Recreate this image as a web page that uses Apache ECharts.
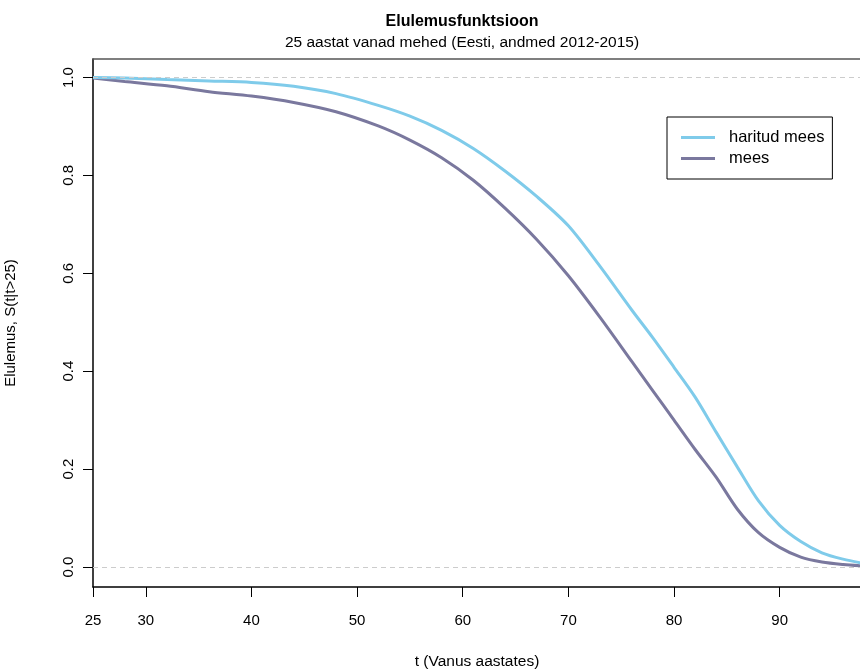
<!DOCTYPE html>
<html>
<head>
<meta charset="utf-8">
<script src="https://cdn.jsdelivr.net/npm/echarts@6/dist/echarts.min.js"></script>
<style>
  html, body { margin: 0; padding: 0; background: #fff; }
  #chart { width: 860px; height: 670px; }
</style>
</head>
<body>
<div id="chart"></div>
<script>
// vanus (aastates)
const ages = [25, 28, 32, 36, 40, 44, 48, 52, 55, 58, 61, 64, 67, 70, 73, 76, 78, 80, 82, 84, 86, 88, 90, 92, 94, 96, 98]
// elulemus, haritud mees
const educated = [1.000, 0.999, 0.996, 0.993, 0.990, 0.982, 0.967, 0.943, 0.921, 0.892, 0.855, 0.809, 0.757, 0.697, 0.614, 0.525, 0.468, 0.408, 0.347, 0.275, 0.204, 0.135, 0.085, 0.052, 0.029, 0.016, 0.007]
// elulemus, mees
const allMen = [0.999, 0.992, 0.983, 0.971, 0.962, 0.949, 0.930, 0.901, 0.872, 0.836, 0.790, 0.733, 0.669, 0.595, 0.510, 0.420, 0.360, 0.300, 0.240, 0.183, 0.118, 0.070, 0.040, 0.020, 0.010, 0.005, 0.002]

const xTicks = [25, 30, 40, 50, 60, 70, 80, 90]
const yTicks = [0, 0.2, 0.4, 0.6, 0.8, 1.0]
const seriesNames = ['haritud mees', 'mees']

const font = 'Liberation Sans, Arial, sans-serif'
const blue = '#7fcbea'
const purple = '#7a789e'

const chart = echarts.init(document.getElementById('chart'))
chart.setOption({
  animation: false,
  textStyle: { fontFamily: font },
  title: {
    text: 'Elulemusfunktsioon',
    subtext: '25 aastat vanad mehed (Eesti, andmed 2012-2015)',
    left: 457,
    top: 9,
    textAlign: 'center',
    itemGap: 5,
    textStyle: { fontFamily: font, fontSize: 16, fontWeight: 'bold', color: '#000' },
    subtextStyle: { fontFamily: font, fontSize: 15.5, color: '#000' }
  },
  legend: {
    data: seriesNames,
    orient: 'vertical',
    left: 667,
    top: 117,
    padding: [12, 8, 12, 14],
    itemGap: 4,
    itemWidth: 34,
    itemHeight: 3,
    icon: 'rect',
    borderColor: '#000',
    borderWidth: 1,
    borderRadius: 0,
    textStyle: { fontFamily: font, fontSize: 16.5, color: '#000', lineHeight: 17, padding: [0, 0, 0, 9] }
  },
  grid: { left: 93, top: 59, right: -1, bottom: 83, outerBoundsMode: 'none' },
  xAxis: [{
    type: 'value',
    min: 25,
    max: 97.7,
    name: 't (Vanus aastates)',
    nameLocation: 'middle',
    nameGap: 67,
    nameTextStyle: { fontFamily: font, fontSize: 15.5, color: '#000' },
    axisLine: { show: true, onZero: false, lineStyle: { color: '#000', width: 1.5 } },
    axisTick: { show: true, length: 10, customValues: xTicks, lineStyle: { color: '#000', width: 1 } },
    axisLabel: { customValues: xTicks, margin: 26, fontSize: 15, color: '#000', fontFamily: font },
    splitLine: { show: false }
  }, {
    type: 'value',
    position: 'top',
    min: 25,
    max: 97.7,
    axisLine: { show: true, onZero: false, lineStyle: { color: '#555', width: 1.5 } },
    axisTick: { show: false },
    axisLabel: { show: false },
    splitLine: { show: false }
  }],
  yAxis: {
    type: 'value',
    min: -0.0409,
    max: 1.0378,
    name: 'Elulemus, S(t|t>25)',
    nameLocation: 'middle',
    nameGap: 75,
    nameTextStyle: { fontFamily: font, fontSize: 15, color: '#000' },
    axisLine: { show: true, onZero: false, lineStyle: { color: '#000', width: 1.5 } },
    axisTick: { show: true, length: 10, customValues: yTicks, lineStyle: { color: '#000', width: 1 } },
    axisLabel: {
      customValues: yTicks,
      rotate: 90,
      margin: 17,
      fontSize: 15,
      color: '#000',
      fontFamily: font,
      formatter: v => v.toFixed(1)
    },
    splitLine: { show: false }
  },
  series: [{
    name: seriesNames[0],
    type: 'line',
    data: ages.map((a, i) => [a, educated[i]]),
    symbol: 'none',
    smooth: 0.3,
    clip: true,
    lineStyle: { color: blue, width: 3 },
    itemStyle: { color: blue },
    z: 3,
    markLine: {
      silent: true,
      symbol: 'none',
      label: { show: false },
      lineStyle: { color: '#cccccc', type: [5, 4], width: 1 },
      data: [{ yAxis: 0 }, { yAxis: 1 }]
    }
  }, {
    name: seriesNames[1],
    type: 'line',
    data: ages.map((a, i) => [a, allMen[i]]),
    symbol: 'none',
    smooth: 0.3,
    clip: true,
    lineStyle: { color: purple, width: 3 },
    itemStyle: { color: purple },
    z: 2
  }]
})
</script>
</body>
</html>
